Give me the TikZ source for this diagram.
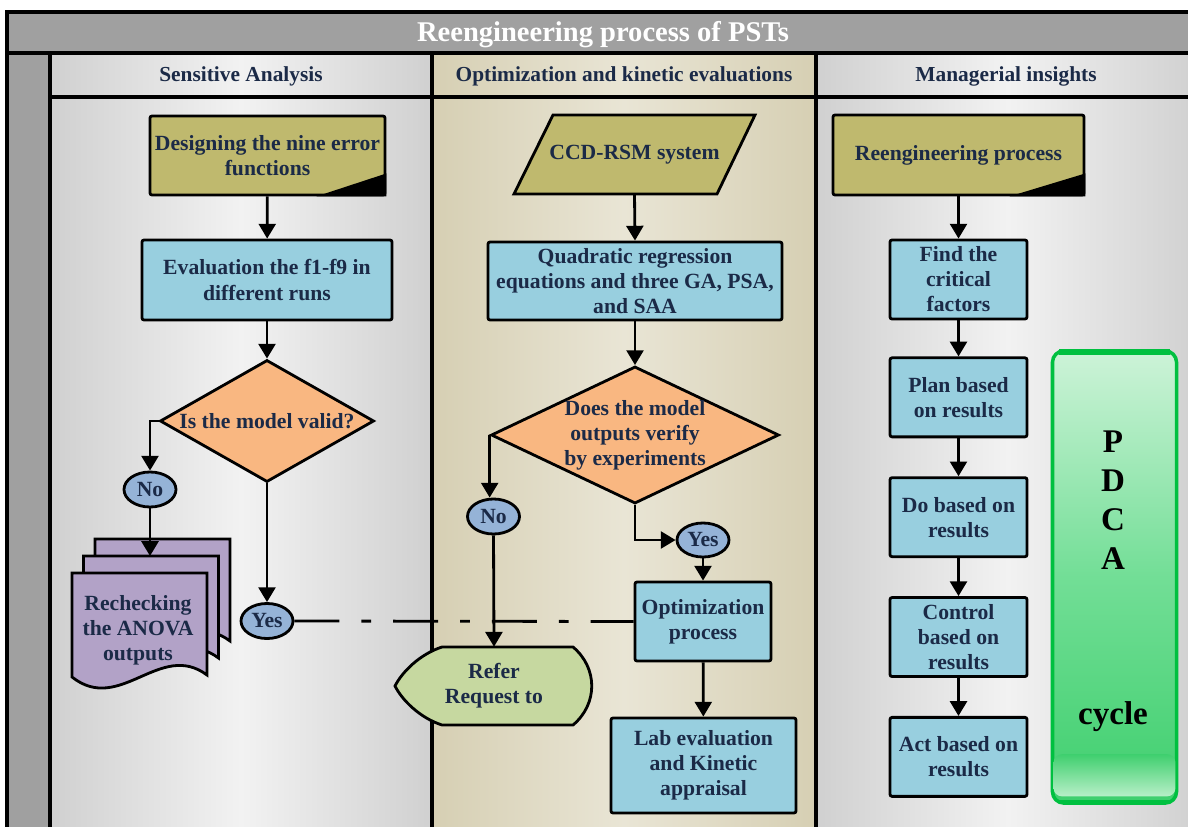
\documentclass[tikz,border=0pt]{standalone}
\usepackage{fontspec}
\setmainfont{Liberation Serif}
\usetikzlibrary{arrows.meta,positioning,shapes.geometric}

\definecolor{txtnavy}{HTML}{1B2A47}
\definecolor{olivebox}{HTML}{BFB96E}
\definecolor{bluebox}{HTML}{98CFDF}
\definecolor{orangedia}{HTML}{F9B781}
\definecolor{ovalblue}{HTML}{95B3D7}
\definecolor{purpledoc}{HTML}{B2A2C7}
\definecolor{greenrefer}{HTML}{C6D8A0}
\definecolor{titlegray}{HTML}{A0A0A0}
\definecolor{lanegray}{HTML}{D0D0D0}
\definecolor{lanelight}{HTML}{F2F2F2}
\definecolor{lanebeige}{HTML}{D6CFB3}
\definecolor{lanebeigelight}{HTML}{E9E5D5}
\definecolor{pdcaedge}{HTML}{00C040}
\definecolor{pdcatop}{HTML}{CDF3D8}
\definecolor{pdcamid}{HTML}{72DE96}
\definecolor{pdcabottom}{HTML}{3FCF6E}
\definecolor{pdcalow}{HTML}{B8EFC8}

\newcommand{\flowfont}{\fontsize{15.4}{17.8}\selectfont\bfseries}
\newcommand{\lanefont}{\fontsize{15.2}{17}\selectfont\bfseries}
\newcommand{\titlefont}{\fontsize{20.3}{24}\selectfont\bfseries}
\newcommand{\pdcafont}{\fontsize{23.5}{27.7}\selectfont\bfseries}

\begin{document}
\begin{tikzpicture}[x=0.025cm, y=-0.025cm,
    box/.style={draw, line width=2pt, rounded corners=1.5pt, text=txtnavy, font=\flowfont, align=center, inner sep=1pt},
    procbox/.style={box, fill=bluebox},
    startbox/.style={box, fill=olivebox},
    decision/.style={diamond, draw, line width=2pt, fill=orangedia, text=txtnavy, font=\flowfont, align=center, inner sep=0pt},
    answer/.style={ellipse, draw, line width=2pt, fill=ovalblue, text=txtnavy, font=\flowfont, inner sep=0pt, minimum width=1.3cm, minimum height=0.875cm},
    arr/.style={line width=2pt, -{Triangle[length=10.5pt,width=12pt]}},
    lanerule/.style={line width=2.2pt},
    lanehead/.style={text=txtnavy, font=\lanefont}]
    \useasboundingbox (0,0) rectangle (1188,827);
    \clip (0,0) rectangle (1188,827);

    % title bar and left strip
    \fill[titlegray] (7,12) rectangle (1200,53);
    \fill[titlegray] (7,53) rectangle (50,840);

    % lanes
    \fill[left color=lanegray, right color=lanegray, middle color=lanelight] (50,53) rectangle (432,840);
    \fill[left color=lanebeige, right color=lanebeige, middle color=lanebeigelight] (432,53) rectangle (816,840);
    \fill[left color=lanegray, right color=lanegray, middle color=lanelight] (816,53) rectangle (1200,840);

    \draw[lanerule] (7,840) -- (7,12) -- (1200,12);
    \draw[lanerule] (7,53) -- (1200,53);
    \draw[lanerule] (50,53) -- (50,840);
    \draw[lanerule] (50,97) -- (1200,97);
    \draw[lanerule] (432,53) -- (432,840);
    \draw[lanerule] (816,53) -- (816,840);

    \node[text=white, font=\titlefont] (title) at (603,35) {Reengineering process of PSTs};
    \node[lanehead] (hdrsens) at (241,76) {Sensitive Analysis};
    \node[lanehead] (hdropt) at (624,76) {Optimization and kinetic evaluations};
    \node[lanehead] (hdrman) at (1006,76) {Managerial insights};

    % Sensitive Analysis
    \node[startbox, minimum width=5.875cm, minimum height=1.975cm] (des) at (267.5,155.5) {Designing the nine error\\functions};
    \fill (des.south east) -- ++(0,-23) -- ++(-70,23) -- cycle;
    \node[procbox, minimum width=6.25cm, minimum height=2cm] (eval) at (267,280) {Evaluation the f1-f9 in\\different runs};
    \node[decision, aspect=1.75, minimum width=5.35cm, minimum height=3.05cm] (valid) at (267,421) {Is the model valid?};
    \node[answer] (no1) at (150,489.5) {No};
    \node[answer] (yes1) at (267,621) {Yes};

    % stacked documents
    \foreach \s in {2,1,0}
      \draw[line width=2pt, fill=purpledoc, shift={(11.5*\s,-17*\s)}]
        (72,573) -- (207,573) -- (207,675) .. controls (160,640) and (120,715) .. (72,677) -- cycle;
    \coordinate (docmid) at (150,556);
    \node[text=txtnavy, font=\flowfont, align=center] (recheck) at (138,630) {Rechecking\\the ANOVA\\outputs};

    % Optimization and kinetic evaluations
    \draw[line width=2pt, fill=olivebox] (553,115) -- (755,115) -- (717,194) -- (514,194) -- cycle;
    \node[text=txtnavy, font=\flowfont, minimum height=1.975cm, inner sep=0pt] (ccd) at (634.5,154.5) {CCD-RSM system};
    \node[procbox, minimum width=7.35cm, minimum height=1.95cm] (quad) at (635,281) {Quadratic regression\\equations and three GA, PSA,\\and SAA};
    \node[decision, aspect=2.1, minimum width=7.05cm, minimum height=3.35cm] (verify) at (635,435) {Does the model\\outputs verify\\by experiments};
    \node[answer] (no2) at (493.5,516.5) {No};
    \node[answer, minimum height=0.85cm] (yes2) at (703,540) {Yes};
    \draw[line width=2pt, fill=greenrefer] (442,647) -- (573,647) .. controls (598,668) and (598,704) .. (573,725)
      -- (442,725) .. controls (420,718) and (402,700) .. (395,686) .. controls (402,672) and (420,654) .. (442,647) -- cycle;
    \node[text=txtnavy, font=\flowfont, align=center, minimum height=1.95cm, inner sep=0pt] (refer) at (494,686) {Refer\\Request to};
    \node[procbox, minimum width=3.4cm, minimum height=1.975cm] (opt) at (703,621.5) {Optimization\\process};
    \node[procbox, minimum width=4.625cm, minimum height=2.375cm] (lab) at (703.5,765.5) {Lab evaluation\\and Kinetic\\appraisal};

    % Managerial insights
    \node[startbox, minimum width=6.275cm, minimum height=2cm] (reeng) at (958.5,155) {Reengineering process};
    \fill (reeng.south east) -- ++(0,-23) -- ++(-76,23) -- cycle;
    \node[procbox, minimum width=3.425cm, minimum height=1.975cm] (find) at (958.5,279.5) {Find the\\critical\\factors};
    \node[procbox, minimum width=3.425cm, minimum height=1.975cm, below=0.9cm of find] (plan) {Plan based\\on results};
    \node[procbox, minimum width=3.425cm, minimum height=1.975cm, below=0.95cm of plan] (dostep) {Do based on\\results};
    \node[procbox, minimum width=3.425cm, minimum height=1.975cm, below=0.95cm of dostep] (ctrl) {Control\\based on\\results};
    \node[procbox, minimum width=3.425cm, minimum height=1.975cm, below=0.95cm of ctrl] (act) {Act based on\\results};

    % PDCA cycle
    \node[draw=pdcaedge, line width=2.5pt, rounded corners=8pt, minimum width=3.1cm, minimum height=11.3cm,
      top color=pdcatop, bottom color=pdcabottom, middle color=pdcamid] (pdca) at (1114.5,577) {};
    \shade[top color=pdcabottom, bottom color=pdcalow, rounded corners=6pt]
      ([xshift=2pt,yshift=36pt]pdca.south west) rectangle ([xshift=-2pt,yshift=6pt]pdca.south east);
    \draw[pdcaedge, line width=4pt] ([xshift=6pt,yshift=-2pt]pdca.north west) -- ([xshift=-6pt,yshift=-2pt]pdca.north east);
    \draw[pdcaedge, line width=3pt] ([xshift=6pt,yshift=2pt]pdca.south west) -- ([xshift=-6pt,yshift=2pt]pdca.south east);
    \node[font=\pdcafont, align=center] (pdcaletters) at (1113,500) {P\\D\\C\\A};
    \node[font=\pdcafont] (cyc) at (1113,717) {cycle};

    % connectors
    \draw[arr] (des) -- (eval);
    \draw[arr] (eval) -- (valid);
    \draw[arr] (valid.west) -| (no1.north);
    \draw[arr] (no1.south) -- (docmid);
    \draw[arr] (valid.south) -- (yes1.north);
    \draw[line width=2pt, dash pattern=on 32pt off 15.6pt on 7pt off 15.6pt] (yes1.east) -- (opt.west);
    \draw[arr] (ccd.south) -- (quad.north);
    \draw[arr] (quad) -- (verify);
    \draw[arr] (verify.west) -- (verify.west |- no2.north);
    \draw[arr] (no2.south) -- (refer.north);
    \draw[arr] (verify.south) |- (yes2.west);
    \draw[arr] (yes2.south) -- (opt.north);
    \draw[arr] (opt) -- (lab);
    \draw[arr] (reeng) -- (find);
    \draw[arr] (find) -- (plan);
    \draw[arr] (plan) -- (dostep);
    \draw[arr] (dostep) -- (ctrl);
    \draw[arr] (ctrl) -- (act);
\end{tikzpicture}
\end{document}
